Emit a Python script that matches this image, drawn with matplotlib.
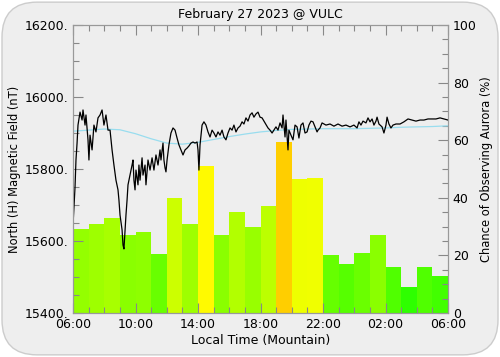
import numpy as np
import matplotlib
matplotlib.use("Agg")
import matplotlib.pyplot as plt
from matplotlib.colors import LinearSegmentedColormap, Normalize
from matplotlib.patches import FancyBboxPatch
from matplotlib.ticker import MultipleLocator

# Hourly aurora chance (%), one bar per hour starting at 06:00 local
aurora_pct = [29, 31, 33, 27, 28, 20.5, 40, 31, 51, 27, 35, 30,
              37, 59.5, 46.5, 47, 20, 17, 21, 27, 16, 9, 16, 13]

# Measured H component (hours after 06:00, nT)
mag_hours = [0.00, 0.13, 0.19, 0.26, 0.32, 0.45, 0.58, 0.64, 0.77, 0.83,
             0.96, 1.02, 1.09, 1.22, 1.34, 1.47, 1.60, 1.73, 1.86, 1.98,
             2.11, 2.24, 2.37, 2.50, 2.62, 2.75, 2.88, 2.94, 3.01, 3.14,
             3.20, 3.26, 3.33, 3.39, 3.46, 3.52, 3.65, 3.78, 3.84, 3.90,
             3.97, 4.03, 4.16, 4.22, 4.29, 4.42, 4.48, 4.61, 4.67, 4.80,
             4.93, 5.06, 5.18, 5.31, 5.44, 5.57, 5.63, 5.76, 5.82, 5.89,
             5.95, 6.02, 6.14, 6.27, 6.40, 6.53, 6.66, 6.78, 6.91, 7.04,
             7.17, 7.30, 7.42, 7.55, 7.68, 7.81, 7.94, 8.00, 8.06, 8.13,
             8.26, 8.38, 8.51, 8.64, 8.77, 8.90, 9.02, 9.15, 9.28, 9.41,
             9.54, 9.66, 9.79, 9.92, 10.05, 10.18, 10.30, 10.43, 10.56, 10.69,
             10.82, 10.94, 11.07, 11.20, 11.33, 11.46, 11.58, 11.71, 11.84, 11.97,
             12.10, 12.29, 12.48, 12.61, 12.74, 12.86, 12.99, 13.12, 13.25, 13.38,
             13.44, 13.57, 13.63, 13.76, 13.82, 13.95, 14.08, 14.21, 14.34, 14.46,
             14.59, 14.72, 14.85, 14.98, 15.10, 15.23, 15.36, 15.49, 15.62, 15.68,
             15.81, 15.94, 16.19, 16.45, 16.70, 16.96, 17.22, 17.47, 17.73, 17.98,
             18.18, 18.30, 18.43, 18.56, 18.75, 18.88, 19.01, 19.14, 19.26, 19.39,
             19.46, 19.58, 19.78, 19.90, 20.03, 20.10, 20.22, 20.35, 20.48, 20.67,
             20.93, 21.18, 21.44, 21.70, 21.95, 22.21, 22.46, 22.72, 22.98, 23.23,
             23.49, 23.74, 24.00]
mag_nt = [15644, 15750, 15825, 15872, 15922, 15958, 15936, 15964, 15922, 15950,
          15881, 15825, 15894, 15853, 15922, 15903, 15942, 15950, 15964, 15922,
          15950, 15908, 15908, 15853, 15811, 15769, 15742, 15714, 15672, 15631,
          15589, 15578, 15631, 15672, 15714, 15756, 15783, 15811, 15825, 15769,
          15742, 15797, 15756, 15811, 15769, 15831, 15783, 15811, 15756, 15825,
          15797, 15831, 15797, 15839, 15811, 15853, 15825, 15872, 15825, 15803,
          15792, 15825, 15867, 15900, 15914, 15908, 15886, 15867, 15853, 15839,
          15853, 15858, 15864, 15872, 15875, 15872, 15875, 15853, 15797, 15867,
          15922, 15931, 15922, 15903, 15889, 15908, 15900, 15889, 15903, 15894,
          15908, 15889, 15881, 15900, 15914, 15908, 15922, 15903, 15914, 15919,
          15931, 15925, 15942, 15933, 15950, 15956, 15944, 15953, 15958, 15944,
          15942, 15928, 15914, 15908, 15900, 15908, 15917, 15908, 15928, 15914,
          15950, 15889, 15936, 15853, 15908, 15894, 15881, 15922, 15917, 15886,
          15922, 15928, 15900, 15903, 15922, 15933, 15931, 15917, 15903, 15908,
          15914, 15928, 15922, 15925, 15919, 15925, 15919, 15922, 15917, 15922,
          15914, 15931, 15922, 15933, 15928, 15942, 15931, 15939, 15922, 15933,
          15944, 15925, 15917, 15900, 15922, 15944, 15925, 15914, 15922, 15925,
          15925, 15931, 15939, 15936, 15933, 15936, 15936, 15939, 15939, 15939,
          15942, 15939, 15936]

# Quiet-day baseline (hourly, nT)
base_hours = list(range(25))
base_nt = [15905, 15908, 15911, 15909, 15898, 15884, 15872, 15869, 15874,
           15882, 15890, 15897, 15903, 15907, 15910, 15911, 15912, 15912,
           15912, 15913, 15914, 15916, 15917, 15918, 15920]

tick_hours = [0, 4, 8, 12, 16, 20, 24]
tick_labels = ["06:00", "10:00", "14:00", "18:00", "22:00", "02:00", "06:00"]

bg = "#eeeeee"
fig = plt.figure(figsize=(5.0, 3.57), dpi=100, facecolor="white")
frame = FancyBboxPatch((0.004, 0.006), 0.992, 0.988,
                       boxstyle="round,pad=0,rounding_size=0.07",
                       transform=fig.transFigure, facecolor=bg,
                       edgecolor="#cccccc", linewidth=1.0,
                       mutation_aspect=500 / 357, zorder=-10)
fig.patches.append(frame)

ax = fig.add_axes([73 / 500, 1 - 313 / 357, 375 / 500, 288 / 357])
ax2 = ax.twinx()
ax2.set_facecolor(bg)

cmap = LinearSegmentedColormap.from_list("aur", ["#00ff00", "#ffff00", "#ff0000"])
norm = Normalize(0, 100)
hours = np.arange(len(aurora_pct))
ax2.bar(hours, aurora_pct, width=1.0, align="edge",
        color=cmap(norm(np.array(aurora_pct))), linewidth=0)
ax2.set_ylim(0, 100)

ax.set_zorder(ax2.get_zorder() + 1)
ax.patch.set_visible(False)
ax.plot(base_hours, base_nt, color="#99ddee", lw=0.9)
ax.plot(mag_hours, mag_nt, color="black", lw=0.9)
ax.set_xlim(0, 24)
ax.set_ylim(15400, 16200)

fs = 9
ax.set_yticks([15400, 15600, 15800, 16000, 16200])
ax.set_yticklabels(["15400.", "15600.", "15800.", "16000.", "16200."], fontsize=fs)
ax.yaxis.set_minor_locator(MultipleLocator(50))
ax.set_xticks(tick_hours)
ax.set_xticklabels(tick_labels, fontsize=fs)
ax.xaxis.set_minor_locator(MultipleLocator(1))
ax.tick_params(which="both", direction="in", top=True, right=False, color="#888888")
ax.tick_params(which="major", length=7, width=0.8)
ax.tick_params(which="minor", length=4, width=0.8)

ax2.set_yticks([0, 20, 40, 60, 80, 100])
ax2.set_yticklabels(["0", "20", "40", "60", "80", "100"], fontsize=fs)
ax2.yaxis.set_minor_locator(MultipleLocator(5))
ax2.tick_params(which="both", direction="in", color="#888888")
ax2.tick_params(which="major", length=7, width=0.8)
ax2.tick_params(which="minor", length=4, width=0.8)

for a in (ax, ax2):
    for s in a.spines.values():
        s.set_color("#999999")
        s.set_linewidth(0.8)

lfs = 8.3
ax.set_ylabel("North (H) Magnetic Field (nT)", fontsize=lfs, labelpad=2)
ax2.set_ylabel("Chance of Observing Aurora (%)", fontsize=lfs, labelpad=2)
ax.set_xlabel("Local Time (Mountain)", fontsize=fs, labelpad=2)
ax.set_title("February 27 2023 @ VULC", fontsize=fs, pad=5)

fig.savefig("out.png", dpi=100, facecolor="white")
